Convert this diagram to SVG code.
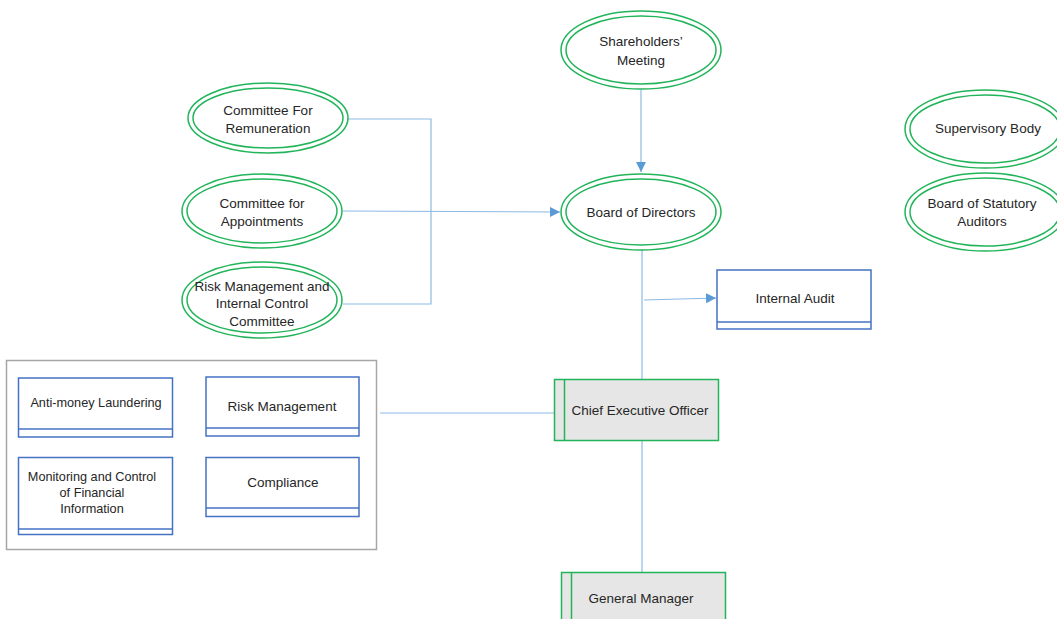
<svg xmlns="http://www.w3.org/2000/svg" width="1057" height="619" viewBox="0 0 1057 619">
<defs>
<marker id="arr" viewBox="0 0 10 10" refX="10" refY="5" markerWidth="10" markerHeight="10" markerUnits="userSpaceOnUse" orient="auto">
<path d="M0,0 L10,5 L0,10 z" fill="#5B9BD5"/>
</marker>
<style>
.ell{fill:#fff;stroke:#22B45A;stroke-width:1.5}
.box{fill:#fff;stroke:#4472C4;stroke-width:1.5}
.gbox{fill:#E6E6E6;stroke:#22B45A;stroke-width:1.5}
.con{fill:none;stroke:#8DB9E3;stroke-width:1.2}
.t{font-family:"Liberation Sans",Arial,sans-serif;font-size:13.5px;fill:#262626;text-anchor:middle}
.s{font-size:12.7px}
</style>
</defs>
<rect width="1057" height="619" fill="#fff"/>

<g id="connectors">
<path class="con" d="M641,90 L641,172" marker-end="url(#arr)"/>
<path class="con" d="M348,119 L431,119 L431,304 L343,304"/>
<path class="con" d="M343,211 L560,212" marker-end="url(#arr)"/>
<path class="con" d="M642,250 L642,379"/>
<path class="con" d="M644,300 L716,298" marker-end="url(#arr)"/>
<path class="con" d="M380,413 L554,413"/>
<path class="con" d="M642,440 L642,572"/>
</g>

<g id="shareholders">
<ellipse class="ell" cx="641" cy="50" rx="80" ry="39"/>
<ellipse class="ell" cx="641" cy="50" rx="75" ry="34"/>
<text class="t" x="641" y="46">Shareholders’</text>
<text class="t" x="641" y="65">Meeting</text>
</g>

<g id="board">
<ellipse class="ell" cx="641" cy="212" rx="80" ry="38"/>
<ellipse class="ell" cx="641" cy="212" rx="75" ry="33"/>
<text class="t" x="641" y="217">Board of Directors</text>
</g>

<g id="remuneration">
<ellipse class="ell" cx="268" cy="118" rx="80" ry="35"/>
<ellipse class="ell" cx="268" cy="118" rx="75" ry="30"/>
<text class="t" x="268" y="115">Committee For</text>
<text class="t" x="268" y="133">Remuneration</text>
</g>

<g id="appointments">
<ellipse class="ell" cx="262" cy="211" rx="80" ry="37"/>
<ellipse class="ell" cx="262" cy="211" rx="75" ry="32"/>
<text class="t" x="262" y="208">Committee for</text>
<text class="t" x="262" y="226">Appointments</text>
</g>

<g id="riskcommittee">
<ellipse class="ell" cx="262" cy="300" rx="80" ry="38"/>
<ellipse class="ell" cx="262" cy="300" rx="75" ry="33"/>
<text class="t" x="262" y="291">Risk Management and</text>
<text class="t" x="262" y="308">Internal Control</text>
<text class="t" x="262" y="326">Committee</text>
</g>

<g id="supervisory">
<ellipse class="ell" cx="985" cy="129" rx="80" ry="39"/>
<ellipse class="ell" cx="985" cy="129" rx="75" ry="34"/>
<text class="t" x="988" y="133">Supervisory Body</text>
</g>

<g id="statutory">
<ellipse class="ell" cx="985" cy="212" rx="80" ry="39"/>
<ellipse class="ell" cx="985" cy="212" rx="75" ry="34"/>
<text class="t" x="982" y="208">Board of Statutory</text>
<text class="t" x="982" y="226">Auditors</text>
</g>

<g id="internalaudit">
<rect class="box" x="717" y="270" width="154" height="59"/>
<line class="box" x1="717" y1="322" x2="871" y2="322"/>
<text class="t" x="795" y="303">Internal Audit</text>
</g>

<g id="ceo">
<rect class="gbox" x="554.5" y="379.5" width="164" height="61"/>
<line class="gbox" x1="564.5" y1="379.5" x2="564.5" y2="440.5"/>
<text class="t" x="640" y="415">Chief Executive Officer</text>
</g>

<g id="gm">
<rect class="gbox" x="561.5" y="572.5" width="164" height="60"/>
<line class="gbox" x1="571.5" y1="572.5" x2="571.5" y2="632"/>
<text class="t" x="641" y="603">General Manager</text>
</g>

<g id="functions">
<rect x="6.5" y="360.5" width="370" height="189" fill="#fff" stroke="#A6A6A6" stroke-width="1.5"/>
</g>

<g id="aml">
<rect class="box" x="18.5" y="378" width="154" height="59"/>
<line class="box" x1="18.5" y1="429" x2="172.5" y2="429"/>
<text class="t s" x="96" y="407">Anti-money Laundering</text>
</g>

<g id="riskmgmt">
<rect class="box" x="206" y="377" width="153" height="59"/>
<line class="box" x1="206" y1="428" x2="359" y2="428"/>
<text class="t" x="282" y="411">Risk Management</text>
</g>

<g id="monitoring">
<rect class="box" x="18.5" y="457.5" width="154" height="77"/>
<line class="box" x1="18.5" y1="529" x2="172.5" y2="529"/>
<text class="t s" x="92" y="481">Monitoring and Control</text>
<text class="t s" x="92" y="497">of Financial</text>
<text class="t s" x="92" y="513">Information</text>
</g>

<g id="compliance">
<rect class="box" x="206" y="457.5" width="153" height="59"/>
<line class="box" x1="206" y1="508" x2="359" y2="508"/>
<text class="t" x="283" y="487">Compliance</text>
</g>
</svg>
